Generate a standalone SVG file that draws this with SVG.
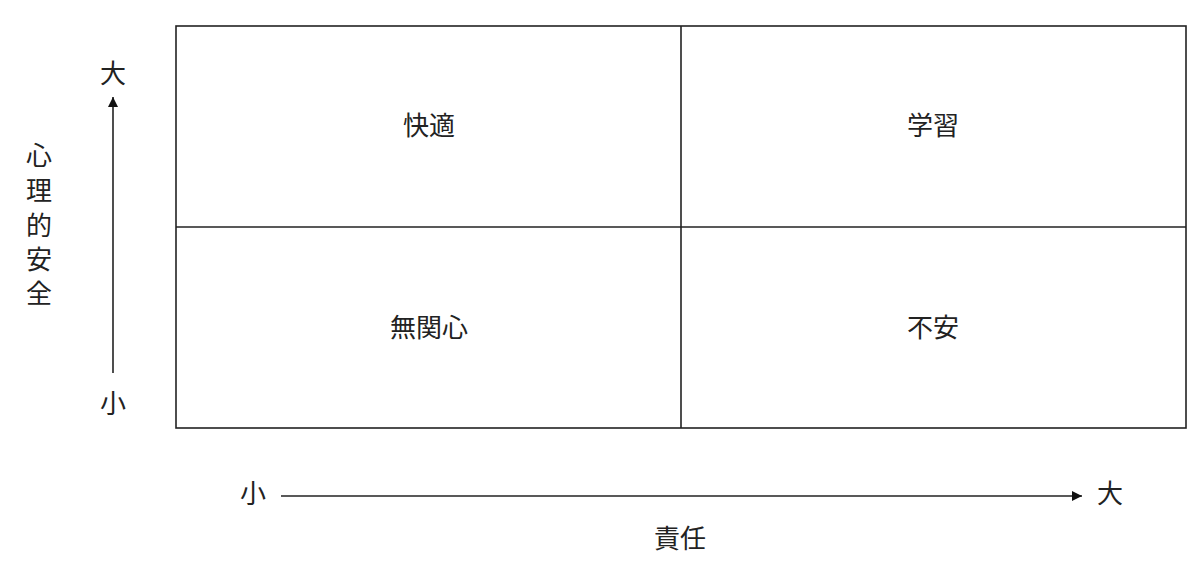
<svg xmlns="http://www.w3.org/2000/svg" width="1200" height="564" viewBox="0 0 1200 564">
<style>
text{font-family:"Noto Sans CJK JP","Noto Sans CJK SC",sans-serif;font-size:26px;fill:#222;text-anchor:middle}
.grid{fill:none;stroke:#222;stroke-width:1.6}
.ax{stroke:#222;stroke-width:1.6;fill:none}
</style>
<defs>
<marker id="ah" viewBox="0 0 10 10" refX="10" refY="5" markerWidth="10" markerHeight="10" markerUnits="userSpaceOnUse" orient="auto">
<path d="M0,0 L10,5 L0,10 Z" fill="#111"/>
</marker>
</defs>
<rect width="1200" height="564" fill="#fff"/>
<g id="matrix">
<rect class="grid" x="176" y="26" width="1010" height="402"/>
<line class="grid" x1="681" y1="26" x2="681" y2="428"/>
<line class="grid" x1="176" y1="227" x2="1186" y2="227"/>
</g>
<g id="q-comfort"><text x="429" y="135">快適</text></g>
<g id="q-learning"><text x="933" y="135">学習</text></g>
<g id="q-apathy"><text x="429" y="337">無関心</text></g>
<g id="q-anxiety"><text x="933" y="337">不安</text></g>
<g id="connectors">
<line class="ax" x1="113" y1="373" x2="113" y2="97" marker-end="url(#ah)"/>
<line class="ax" x1="281" y1="496" x2="1082" y2="496" marker-end="url(#ah)"/>
</g>
<g id="y-axis">
<text x="113" y="83">大</text>
<text x="113" y="413">小</text>
<text x="39" y="165">心</text>
<text x="39" y="200">理</text>
<text x="39" y="235">的</text>
<text x="39" y="269">安</text>
<text x="39" y="303">全</text>
</g>
<g id="x-axis">
<text x="253" y="503">小</text>
<text x="1110" y="503">大</text>
<text x="680" y="548">責任</text>
</g>
</svg>
